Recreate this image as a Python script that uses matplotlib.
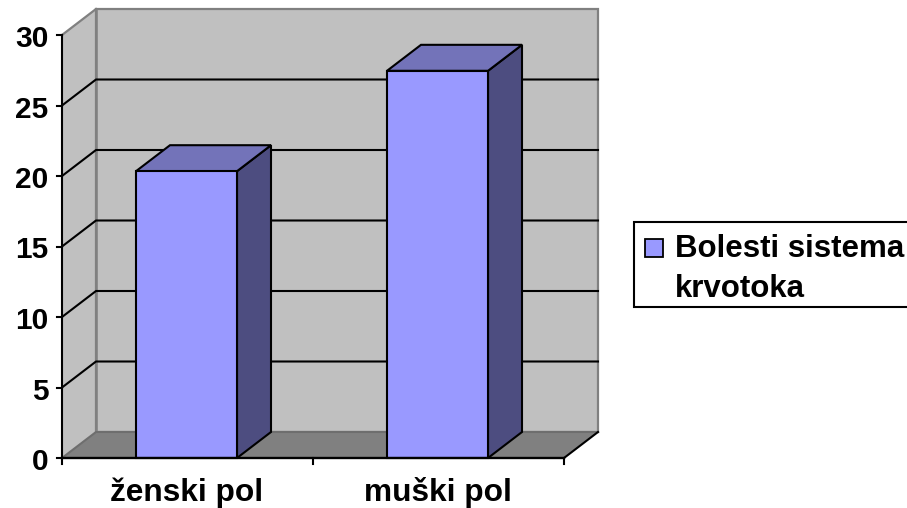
import matplotlib.pyplot as plt
from matplotlib.patches import Polygon, Rectangle

categories = ['ženski pol', 'muški pol']
values = [20, 27]
yticks = [0, 5, 10, 15, 20, 25, 30]
legend_lines = ['Bolesti sistema', 'krvotoka']

W, H = 907, 508
plt.rcParams['font.family'] = ['Liberation Sans', 'DejaVu Sans']

fig = plt.figure(figsize=(W / 100, H / 100), dpi=100)
ax = fig.add_axes([0, 0, 1, 1])
ax.set_xlim(0, W)
ax.set_ylim(H, 0)
ax.axis('off')

# front plane of the chart, in pixels
x0, x1 = 62, 564
y0, y30 = 458, 35
dx, dy = 34, 26
unit = (y0 - y30) / 30
bar_unit = 14.34  # bars sit a bit inside the box so they come out taller than the ticks
lw = 1.5
wall = '#808080'


def yval(v):
    return y0 - v * unit


# walls
ax.add_patch(Polygon([(x0, y0), (x0 + dx, y0 - dy), (x0 + dx, y30 - dy), (x0, y30)],
                     fc='#c0c0c0', ec='none', zorder=1))
ax.add_patch(Rectangle((x0 + dx, y30 - dy), x1 - x0, y0 - y30,
                       fc='#c0c0c0', ec=wall, lw=1.6, zorder=1))
ax.add_patch(Polygon([(x0, y0), (x0 + dx, y0 - dy), (x1 + dx, y0 - dy), (x1, y0)],
                     fc=wall, ec='none', zorder=2))
ax.plot([x0, x0 + dx], [y30, y30 - dy], color=wall, lw=1.6, zorder=2)
ax.plot([x0 + dx, x0 + dx], [y30 - dy, y0 - dy], color=wall, lw=1.8, zorder=2)
ax.plot([x0, x0 + dx, x1 + dx], [y0, y0 - dy, y0 - dy], color='#6e6e6e', lw=1.5, zorder=3)
ax.plot([x1, x1 + dx], [y0, y0 - dy], color='black', lw=lw, zorder=3)

# gridlines
for t in yticks[1:-1]:
    y = yval(t)
    ax.plot([x0, x0 + dx, x1 + dx], [y, y - dy, y - dy], color='black', lw=lw, zorder=2)

# axes
ax.plot([x0, x0], [y30, y0], color='black', lw=lw, zorder=6)
ax.plot([x0, x1], [y0, y0], color='black', lw=lw + 0.2, zorder=6)
for t in yticks:
    y = yval(t)
    ax.plot([x0 - 5, x0], [y, y], color='black', lw=lw, zorder=6)
    ax.text(48.5, y + 12, str(t), ha='right', va='baseline', fontsize=21.5, fontweight='bold')
slot = (x1 - x0) / len(categories)
for i in range(len(categories) + 1):
    x = x0 + i * slot
    ax.plot([x, x], [y0, y0 + 6], color='black', lw=lw, zorder=6)

# bars
bw = 101
for i, (name, v) in enumerate(zip(categories, values)):
    cx = x0 + (i + 0.5) * slot
    left = cx - bw / 2 - 1
    right = left + bw
    top = y0 - v * bar_unit
    ax.add_patch(Polygon([(right, y0), (right + dx, y0 - dy), (right + dx, top - dy), (right, top)],
                         fc='#4d4d80', ec='black', lw=lw, zorder=4))
    ax.add_patch(Polygon([(left, top), (left + dx, top - dy), (right + dx, top - dy), (right, top)],
                         fc='#7373b9', ec='black', lw=lw, zorder=4))
    ax.add_patch(Rectangle((left, top), bw, y0 - top, fc='#9999ff', ec='black', lw=lw, zorder=5))
    ax.text(cx - 1, 501, name, ha='center', va='baseline', fontsize=22.8, fontweight='bold')

# legend
ax.add_patch(Rectangle((634, 222), 280, 85, fc='white', ec='black', lw=1.5, zorder=3))
ax.add_patch(Rectangle((645, 239), 18, 18, fc='#9999ff', ec='black', lw=1.3, zorder=4))
for line, base in zip(legend_lines, [257, 297]):
    ax.text(675, base, line, ha='left', va='baseline', fontsize=22.5, fontweight='bold', zorder=4)

fig.savefig('out.png', dpi=100)
